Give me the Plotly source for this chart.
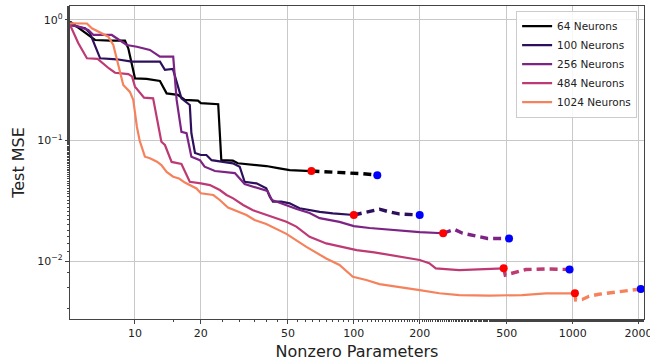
import plotly.graph_objects as go

# ---------------- data ----------------
neurons = [64, 100, 256, 484, 1024]
labels = ["64 Neurons", "100 Neurons", "256 Neurons", "484 Neurons", "1024 Neurons"]
colors = ["#000000", "#2c105c", "#7c2384", "#bd3a74", "#f5825d"]

# 64 neurons
x64 = [5.05, 6.23, 6.57, 7.69, 9.0, 9.32, 10.0, 11.3, 13.0, 13.95, 15.7, 16.9, 19.4, 20.0, 24.0,
       24.8, 28.0, 29.5, 34.0, 39.8, 45.0, 50.9, 64]
y64 = [0.968, 0.727, 0.682, 0.673, 0.673, 0.582, 0.328, 0.324, 0.312, 0.246, 0.239, 0.217, 0.214,
       0.204, 0.200, 0.0687, 0.068, 0.0647, 0.0630, 0.0614, 0.0590, 0.0568, 0.0558]
x64d = [64, 75, 86, 98.7, 110, 128]
y64d = [0.0558, 0.0552, 0.0541, 0.0536, 0.0530, 0.0516]

# 100 neurons
x100 = [5.05, 5.92, 6.23, 6.93, 8.25, 9.66, 13.0, 13.7, 14.9, 16.3, 17.8, 18.1, 18.8, 20.0, 21.2,
        22.4, 24.8, 28.0, 30.1, 31.2, 31.7, 35.9, 39.8, 41.3, 42.7, 46.6, 50.9, 56.5, 62.8, 69.8,
        80.2, 90.0, 100]
y100 = [0.909, 0.853, 0.776, 0.481, 0.472, 0.451, 0.451, 0.385, 0.392, 0.224, 0.197, 0.115, 0.0788,
        0.0758, 0.0758, 0.0687, 0.0667, 0.0647, 0.0606, 0.0501, 0.0455, 0.0441, 0.0401, 0.0342,
        0.0311, 0.0311, 0.0301, 0.0274, 0.0264, 0.0256, 0.0249, 0.0245, 0.0241]
x100d = [100, 115, 131, 146, 161, 200]
y100d = [0.0241, 0.0255, 0.0269, 0.0255, 0.0246, 0.0241]

# 256 neurons
x256 = [5.05, 5.51, 6.12, 6.46, 7.83, 8.25, 9.17, 10.2, 11.7, 13.0, 14.95, 15.5, 16.3, 17.2, 18.1,
        19.8, 20.8, 23.2, 28.6, 31.7, 36.0, 40.3, 42.2, 47.3, 54.8, 62.8, 69.8, 86.0, 100, 118,
        161, 200, 256]
y256 = [0.909, 0.88, 0.826, 0.751, 0.751, 0.705, 0.62, 0.60, 0.564, 0.496, 0.496, 0.217, 0.118,
        0.115, 0.0734, 0.0687, 0.0606, 0.0558, 0.0537, 0.0435, 0.0404, 0.0381, 0.0321, 0.0297,
        0.0270, 0.0250, 0.0227, 0.0211, 0.0195, 0.0188, 0.0179, 0.0174, 0.0170]
x256d = [256, 288, 314, 349, 408, 512]
y256d = [0.0170, 0.0183, 0.0170, 0.0164, 0.0154, 0.0154]

# 484 neurons
x484 = [5.05, 5.51, 6.03, 6.75, 7.61, 8.11, 9.32, 9.69, 10.0, 11.0, 12.1, 12.6, 13.2, 13.7, 14.2,
        14.7, 16.3, 17.2, 17.8, 20.0, 22.0, 24.4, 26.2, 28.1, 31.2, 34.6, 39.8, 44.3, 49.2, 54.6,
        62.8, 74.8, 89.0, 103, 124, 161, 200, 221, 237, 303, 360, 416, 484]
y484 = [0.909, 0.641, 0.481, 0.475, 0.396, 0.365, 0.356, 0.340, 0.280, 0.227, 0.224, 0.154, 0.0977,
        0.0918, 0.0783, 0.0664, 0.0638, 0.0516, 0.0455, 0.0441, 0.0427, 0.0388, 0.0353, 0.0331,
        0.0292, 0.0264, 0.0241, 0.0226, 0.0212, 0.0193, 0.0159, 0.0140, 0.0131, 0.0123, 0.0118,
        0.0109, 0.0102, 0.0096, 0.0087, 0.0084, 0.0085, 0.0087, 0.0087]
x484d = [484, 492, 513, 611, 754, 968]
y484d = [0.0087, 0.00765, 0.0078, 0.0085, 0.0086, 0.0085]

# 1024 neurons
x1024 = [5.05, 6.03, 6.35, 6.8, 7.55, 7.96, 8.4, 8.84, 9.48, 9.82, 10.2, 10.5, 11.1, 11.7, 12.6,
         13.2, 13.95, 14.95, 15.9, 16.9, 19.1, 20.0, 22.8, 24.4, 26.6, 29.1, 32.3, 35.2, 39.8,
         49.2, 60.7, 74.8, 86.0, 99.0, 114, 131, 161, 200, 246, 303, 416, 588, 754, 1024]
y1024 = [0.939, 0.935, 0.853, 0.80, 0.727, 0.62, 0.423, 0.289, 0.253, 0.217, 0.130, 0.100, 0.0734,
         0.0712, 0.0667, 0.0626, 0.0548, 0.0501, 0.0484, 0.0448, 0.0400, 0.0365, 0.0353, 0.0321,
         0.0278, 0.0262, 0.0241, 0.0219, 0.0203, 0.0168, 0.0131, 0.0105, 0.00927, 0.0074,
         0.00696, 0.00644, 0.00612, 0.00574, 0.0054, 0.00522, 0.00517, 0.00522, 0.0054, 0.0054]
x1024d = [1024, 1032, 1107, 1188, 1318, 1517, 1746, 2048]
y1024d = [0.0054, 0.00475, 0.0048, 0.0051, 0.0053, 0.0055, 0.00567, 0.00586]

xticks = [10, 20, 50, 100, 200, 500, 1000, 2000]
yticks = [1, 0.1, 0.01]
yticktext = ["10<sup>0</sup>", "10<sup>\u22121</sup>", "10<sup>\u22122</sup>"]

solid = [(x64, y64), (x100, y100), (x256, y256), (x484, y484), (x1024, y1024)]
dashed = [(x64d, y64d), (x100d, y100d), (x256d, y256d), (x484d, y484d), (x1024d, y1024d)]

# ---------------- figure ----------------
fig = go.Figure()

for (xs, ys), lab, col in zip(solid, labels, colors):
    fig.add_trace(go.Scatter(x=xs, y=ys, mode="lines", name=lab,
                             line=dict(color=col, width=2.2), showlegend=True))

for (xs, ys), col in zip(dashed, colors):
    fig.add_trace(go.Scatter(x=xs, y=ys, mode="lines", showlegend=False,
                             line=dict(color=col, width=3.4, dash="8px,5px")))

# red markers at end of solid lines, blue at end of dashed lines
fig.add_trace(go.Scatter(x=[s[0][-1] for s in solid], y=[s[1][-1] for s in solid],
                         mode="markers", showlegend=False,
                         marker=dict(color="#ff0000", size=8)))
fig.add_trace(go.Scatter(x=[d[0][-1] for d in dashed], y=[d[1][-1] for d in dashed],
                         mode="markers", showlegend=False,
                         marker=dict(color="#0000ff", size=8)))

axis_common = dict(
    showline=True, mirror=True, linecolor="#444444", linewidth=1.2,
    showgrid=True, gridcolor="#c8c8c8", gridwidth=1,
    ticks="outside", ticklen=4, tickcolor="#444444",
    zeroline=False, automargin=False,
    tickfont=dict(family="DejaVu Sans", size=11, color="#222222"),
)

fig.update_xaxes(type="log", range=[0.703, 3.326], tickvals=xticks,
                 ticktext=[str(v) for v in xticks], ticklabeloverflow="allow",
                 minor=dict(ticks="outside", ticklen=2, tickcolor="#444444", showgrid=False),
                 title=dict(text="Nonzero Parameters", standoff=6,
                            font=dict(family="DejaVu Sans", size=16, color="#222222")),
                 **axis_common)
fig.update_yaxes(type="log", range=[-2.481, 0.116], tickvals=yticks, ticktext=yticktext,
                 minor=dict(ticks="outside", ticklen=2, tickcolor="#444444", showgrid=False),
                 title=dict(text="Test MSE", standoff=8,
                            font=dict(family="DejaVu Sans", size=16, color="#222222")),
                 **axis_common)

fig.update_layout(
    width=650, height=364,
    margin=dict(l=70, r=6, t=6, b=45),
    plot_bgcolor="white", paper_bgcolor="white",
    font=dict(family="DejaVu Sans", size=11, color="#222222"),
    legend=dict(x=0.988, y=0.985, xanchor="right", yanchor="top",
                bgcolor="rgba(255,255,255,0.85)", bordercolor="#cccccc", borderwidth=1,
                font=dict(family="DejaVu Sans", size=10.5, color="#222222"),
                tracegroupgap=0, itemwidth=30),
)

fig.write_html("out.html")
